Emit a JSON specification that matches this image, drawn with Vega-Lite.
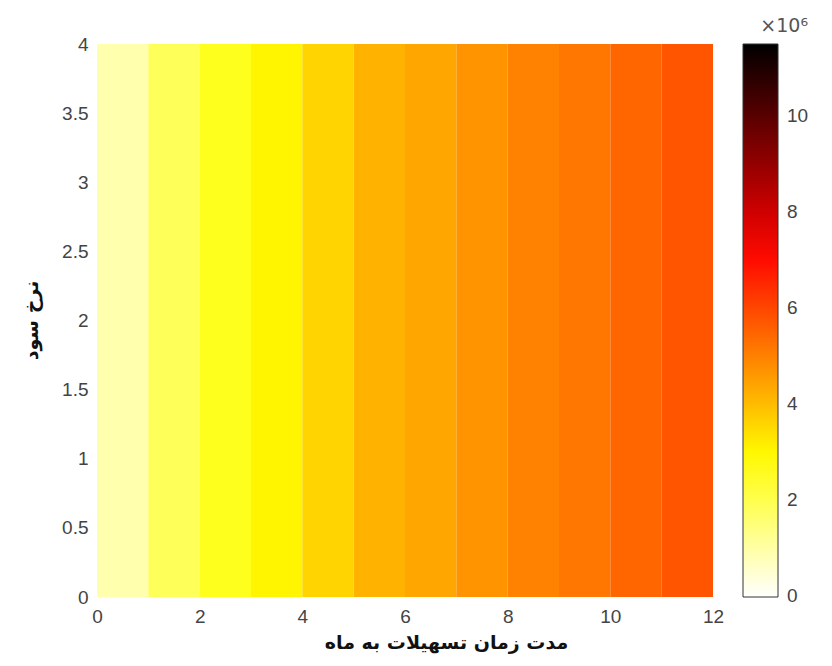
{
  "$schema": "https://vega.github.io/schema/vega-lite/v6.json",
  "width": 616,
  "height": 553,
  "autosize": {"type": "none"},
  "padding": {"left": 97, "top": 44, "right": 119, "bottom": 69},
  "background": "white",
  "config": {
    "view": {"stroke": null},
    "axis": {"labelFont": "Liberation Sans", "labelFontSize": 19, "labelColor": "#444444", "domain": false, "ticks": false, "grid": false, "titleFont": "DejaVu Sans", "titleFontWeight": "bold", "titleFontSize": 19, "titleColor": "#111111"},
    "legend": {"labelFont": "Liberation Sans", "labelFontSize": 19, "labelColor": "#444444", "titleFont": "DejaVu Sans", "titleFontSize": 19, "titleColor": "#555555", "titleFontWeight": "normal"}
  },
  "data": {"values": [
    {"month": 0, "month_end": 1, "value": 900000},
    {"month": 1, "month_end": 2, "value": 1870000},
    {"month": 2, "month_end": 3, "value": 2530000},
    {"month": 3, "month_end": 4, "value": 3050000},
    {"month": 4, "month_end": 5, "value": 3600000},
    {"month": 5, "month_end": 6, "value": 4170000},
    {"month": 6, "month_end": 7, "value": 4380000},
    {"month": 7, "month_end": 8, "value": 4700000},
    {"month": 8, "month_end": 9, "value": 4970000},
    {"month": 9, "month_end": 10, "value": 5200000},
    {"month": 10, "month_end": 11, "value": 5460000},
    {"month": 11, "month_end": 12, "value": 5750000}
  ]},
  "mark": {"type": "rect"},
  "encoding": {
    "x": {"field": "month", "type": "quantitative", "scale": {"domain": [0, 12], "nice": false},
      "axis": {"values": [0, 2, 4, 6, 8, 10, 12], "labelPadding": 10, "labelFlush": false, "title": "مدت زمان تسهیلات به ماه", "titleX": 349, "titleY": 45, "titleBaseline": "middle", "titleAlign": "center"}},
    "x2": {"field": "month_end"},
    "y": {"datum": 0, "type": "quantitative", "scale": {"domain": [0, 4], "nice": false},
      "axis": {"values": [0, 0.5, 1, 1.5, 2, 2.5, 3, 3.5, 4], "labelExpr": "datum.value + ''", "labelPadding": 9, "labelFlush": false, "title": "نرخ سود", "titleX": -66, "titleY": 276, "titleBaseline": "middle", "titleAlign": "center", "titleAngle": -90}},
    "y2": {"datum": 4},
    "color": {"field": "value", "type": "quantitative",
      "scale": {"domain": [-20000, 2875000, 7187500, 11500000], "range": ["#ffffff", "#ffff00", "#ff0000", "#000000"], "interpolate": "rgb"},
      "legend": {"orient": "none", "legendX": 646, "legendY": -27, "direction": "vertical", "gradientLength": 553, "gradientThickness": 35, "gradientStrokeColor": "#333333", "gradientStrokeWidth": 1, "values": [0, 2000000, 4000000, 6000000, 8000000, 10000000], "labelExpr": "datum.value / 1000000", "labelOffset": 9, "labelBaseline": "middle", "title": "×10⁶", "titleAnchor": "end", "titlePadding": 8}}
  }
}
